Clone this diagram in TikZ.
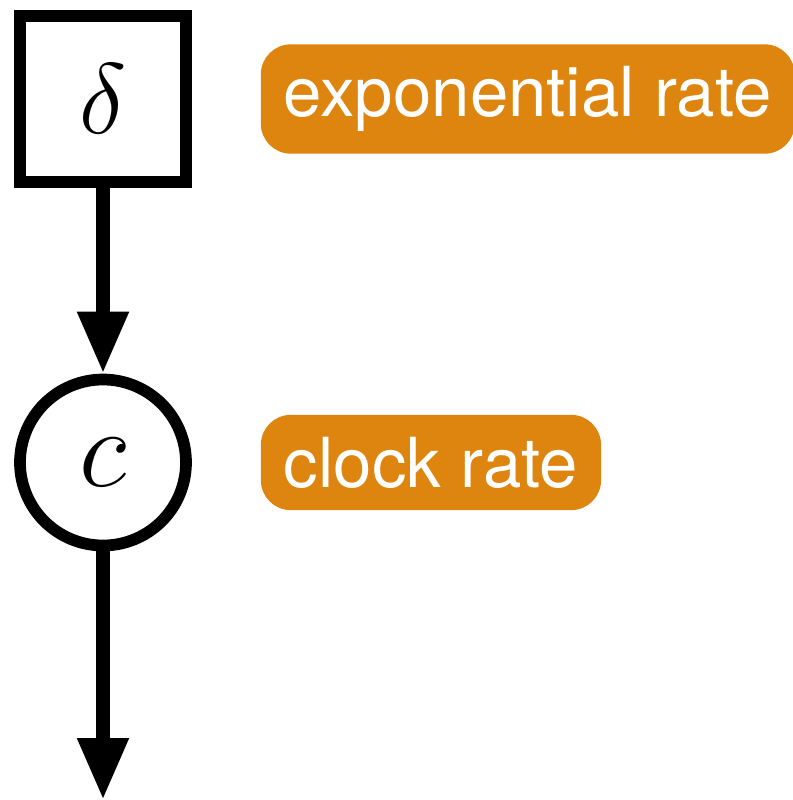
\documentclass[tikz,border=0pt]{standalone}
\usepackage{fix-cm}
\usepackage{fontspec}
\usetikzlibrary{arrows.meta,positioning}
\newfontfamily\labelfont{TeX Gyre Heros}
\definecolor{tagorange}{RGB}{221,133,14}

\begin{document}
\begin{tikzpicture}[auto]
	\tikzstyle{param} = [rectangle, draw, line width=5.85pt, minimum size=83pt, inner sep=0pt]
	\tikzstyle{var} = [circle, draw, line width=5.85pt, minimum size=83pt, inner sep=0pt]
	\tikzstyle{line} = [draw, line width=7pt, -{Triangle[length=31pt,width=24pt]}]
	\tikzstyle{tag} = [rectangle, fill=tagorange, text=white, rounded corners=15pt, inner xsep=11.5pt, inner ysep=11pt, font=\labelfont\fontsize{34.5}{41}\selectfont]

	\useasboundingbox (0,0) rectangle (396.5pt,-400pt);

	\node [param] at (51.5pt,-49.5pt) (delta) {\fontsize{50}{60}\selectfont$\delta$};
	\node [var, below of=delta, node distance=181.75pt] (clock) {\fontsize{56}{68}\selectfont$c$};
	\coordinate [below of=clock, node distance=168.75pt] (out);
	\path [line] (delta) -- (clock);
	\path [line] (clock) -- (out);

	\node [tag, right=34.3pt of delta] (deltaTag) {exponential rate};
	\node [tag, right=34.3pt of clock] (clockTag) {clock rate};
\end{tikzpicture}
\end{document}
